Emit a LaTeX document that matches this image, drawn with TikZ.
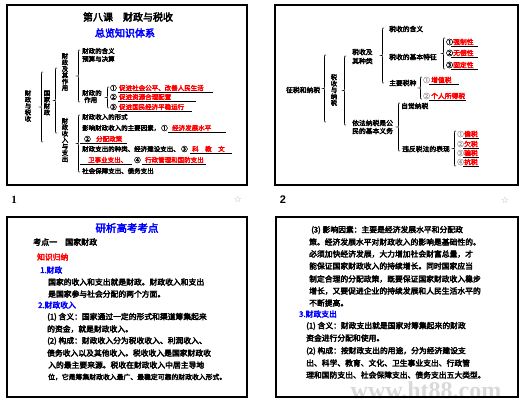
\documentclass[tikz,border=0pt]{standalone}
\usepackage{fontspec}
\setmainfont{Noto Sans CJK SC}[AutoFakeBold=3.5]
\newfontfamily\latser{Liberation Serif}
\newfontfamily\latsans{Liberation Sans}
\newfontfamily\djv{DejaVu Sans}
\newcommand\brc[3]{%
  \draw[brcline] ({#1+3},#2) .. controls ({#1+1.5},#2) .. ({#1+1.5},{#2+2})
    -- ({#1+1.5},{(#2+#3)/2-2}) .. controls ({#1+1.5},{(#2+#3)/2}) .. (#1,{(#2+#3)/2})
    .. controls ({#1+1.5},{(#2+#3)/2}) .. ({#1+1.5},{(#2+#3)/2+2})
    -- ({#1+1.5},{#3-2}) .. controls ({#1+1.5},#3) .. ({#1+3},#3);}
\begin{document}
\begin{tikzpicture}[x=1pt,y=-1pt,
  frame/.style={draw,line width=1.2pt},
  brcline/.style={line width=0.6pt},
  ul/.style={line width=0.6pt},
  t/.style={inner sep=0,anchor=west,font=\fontsize{6.5}{7}\selectfont\bfseries},
  rt/.style={t,text=red},
  t2/.style={inner sep=0,anchor=west,font=\fontsize{6.8}{7}\selectfont\bfseries},
  rt2/.style={t2,text=red},
  gt2/.style={t2,text=gray!70},
  vt/.style={inner sep=0,align=center,font=\fontsize{6.4}{6.4}\selectfont\bfseries},
  body/.style={inner sep=0,anchor=west,font=\fontsize{7.8}{8}\selectfont\bfseries},
  bbody/.style={body,text=blue},
  ttl/.style={inner sep=0,font=\fontsize{10}{11}\selectfont\bfseries},
  pnum/.style={inner sep=0,font=\fontsize{11}{12}\latser\bfseries},
  star/.style={inner sep=0,text=gray!60,font=\fontsize{9}{10}\djv}
]
\useasboundingbox (0,0) rectangle (522,405);
\fill[white] (0,0) rectangle (522,405);

% ---------- slide 1 ----------
\draw[frame] (7,5) rectangle (247,185);
\node[ttl] (s1t) at (128,17) {第八课　财政与税收};
\node[ttl,text=blue] (s1s) at (125,33) {总览知识体系};
\node[vt] (r1) at (28,106) {财\\政\\与\\税\\收};
\brc{40}{72}{142}
\node[vt] (g1) at (47,103) {国\\家\\财\\政};
\brc{54}{68}{133}
\node[vt] (v1) at (65,72) {财\\政\\及\\其\\作\\用};
\node[vt] (v2) at (65,140) {财\\政\\收\\入\\与\\支\\出};
\brc{77}{50}{102}
\node[t] (a1) at (82,51) {财政的含义};
\node[t] (a2) at (82,59) {预算与决算};
\node[t] (a3) at (82,93) {财政的};
\node[t] (a4) at (84,100) {作用};
\brc{106}{87}{108}
\node[t] (n1) at (110,88) {①};
\node[rt] (b1) at (119,88) {促进社会公平、改善人民生活};
\draw[ul] (118,92.5) -- (213,92.5);
\node[t] (n2) at (110,97) {②};
\node[rt] (b2) at (119,97) {促进资源合理配置};
\draw[ul] (118,101.5) -- (196,101.5);
\node[t] (n3) at (110,107) {③};
\node[rt] (b3) at (119,107) {促进国民经济平稳运行};
\draw[ul] (118,111) -- (192,111);
\brc{77}{115}{172}
\node[t] (c1) at (82,117) {财政收入的形式};
\node[t] (c2) at (82,128) {影响财政收入的主要因素，};
\node[t] (c2n) at (161,128) {①};
\node[rt] (c2r) at (172,128) {经济发展水平};
\draw[ul] (168,132) -- (226,132);
\node[t] (c3n) at (84,139) {②};
\node[rt] (c3r) at (96,139) {分配政策};
\draw[ul] (80,143) -- (127,143);
\node[t] (c4) at (82,149) {财政支出的种类、经济建设支出、};
\node[t] (c4n) at (181,149) {③};
\node[rt] (c4r) at (192,149) {科　教　文};
\draw[ul] (190,153) -- (232,153);
\node[rt] (c5r) at (88,160) {卫事业支出、};
\draw[ul] (80,164) -- (132,164);
\node[t] (c5n) at (134,160) {④};
\node[rt] (c5r2) at (145,160) {行政管理和国防支出};
\draw[ul] (142,164) -- (206,164);
\node[t] (c6) at (82,171) {社会保障支出、债务支出};
\node[pnum] (p1) at (14,200) {1};
\node[star] (st1) at (238,199) {☆};

% ---------- slide 2 ----------
\draw[frame] (275,5) rectangle (518,185);
\node[t2] (r2) at (286,90) {征税和纳税};
\brc{323}{55}{122}
\node[vt] (g2) at (334,90) {税\\收\\与\\纳\\税};
\brc{343}{56}{125}
\node[t2] (d1) at (352,52) {税收及};
\node[t2] (d1b) at (352,61) {其种类};
\node[t2] (d2) at (352,123) {依法纳税是公};
\node[t2] (d2b) at (352,131) {民的基本义务};
\brc{381}{28}{83}
\node[t2] (e1) at (389,29) {税收的含义};
\node[t2] (e2) at (389,57) {税收的基本特征};
\node[t2] (e3) at (389,83) {主要税种};
\brc{442}{38}{69}
\node[t2] (f1n) at (446,42) {①};
\node[rt2] (f1) at (453,42) {强制性};
\draw[ul] (451,46) -- (478,46);
\node[t2] (f2n) at (446,53) {②};
\node[rt2] (f2) at (453,53) {无偿性};
\draw[ul] (451,57) -- (478,57);
\node[t2] (f3n) at (446,65) {③};
\node[rt2] (f3) at (453,65) {固定性};
\draw[ul] (451,69) -- (478,69);
\brc{419}{77}{99}
\node[gt2] (h1n) at (423,80) {①};
\node[rt2] (h1) at (431,80) {增值税};
\draw[ul] (429,84) -- (459,84);
\node[gt2] (h2n) at (423,96) {②};
\node[rt2] (h2) at (431,96) {个人所得税};
\draw[ul] (429,100) -- (466,100);
\brc{397}{103}{151}
\node[t2] (i1) at (401,106) {自觉纳税};
\node[t2] (i2) at (402,149) {违反税法的表现};
\brc{453}{131}{166}
\node[gt2] (j1n) at (457,134) {①};
\node[rt2] (j1) at (464,134) {偷税};
\draw[ul] (463,138) -- (479,138);
\node[gt2] (j2n) at (457,144) {②};
\node[rt2] (j2) at (464,144) {欠税};
\draw[ul] (463,148) -- (479,148);
\node[gt2] (j3n) at (457,153) {③};
\node[rt2] (j3) at (464,153) {骗税};
\draw[ul] (463,157) -- (479,157);
\node[gt2] (j4n) at (457,162) {④};
\node[rt2] (j4) at (464,162) {抗税};
\draw[ul] (463,166) -- (479,166);
\node[pnum,font=\fontsize{11}{12}\latsans\bfseries] (p2) at (283,200) {2};
\node[star] (st2) at (505,200) {☆};

% ---------- slide 3 ----------
\draw[frame] (7,217) rectangle (247,397);
\node[ttl,text=blue,font=\fontsize{10.5}{11}\selectfont\bfseries] (s3t) at (127,228) {研析高考考点};
\node[body,font=\fontsize{8}{9}\selectfont\bfseries] (k1) at (33,242) {考点一　国家财政};
\node[body,text=red] (k2) at (37,257) {知识归纳};
\node[bbody] (k3) at (40,270) {1.财政};
\node[body] (k4) at (48,282) {国家的收入和支出就是财政。财政收入和支出};
\node[body] (k5) at (48,294) {是国家参与社会分配的两个方面。};
\node[bbody] (k6) at (38,305) {2.财政收入};
\node[body] (k7) at (47,317) {(1) 含义：国家通过一定的形式和渠道筹集起来};
\node[body] (k8) at (47,329) {的资金，就是财政收入。};
\node[body] (k9) at (47,341) {(2) 构成：财政收入分为税收收入、利润收入、};
\node[body] (k10) at (47,353) {债务收入以及其他收入。税收收入是国家财政收};
\node[body] (k11) at (48,365) {入的最主要来源。税收在财政收入中居主导地};
\node[body,font=\fontsize{6.85}{8}\selectfont\bfseries] (k12) at (48,377) {位，它是筹集财政收入最广、最稳定可靠的财政收入形式。};

% ---------- slide 4 ----------
\node[inner sep=0,text=gray!30,font=\fontsize{24}{24}\latser\bfseries] (wm) at (426,390) {www.ht88.com};
\draw[frame] (276,217) rectangle (518,397);
\node[body] (m1) at (311,230) {(3) 影响因素：主要是经济发展水平和分配政};
\node[body] (m2) at (309,242) {策。经济发展水平对财政收入的影响是基础性的。};
\node[body] (m3) at (309,254) {必须加快经济发展，大力增加社会财富总量，才};
\node[body] (m4) at (309,266) {能保证国家财政收入的持续增长。同时国家应当};
\node[body] (m5) at (309,279) {制定合理的分配政策，既要保证国家财政收入稳步};
\node[body] (m6) at (309,291) {增长，又要促进企业的持续发展和人民生活水平的};
\node[body] (m7) at (309,303) {不断提高。};
\node[bbody] (m8) at (299,314) {3.财政支出};
\node[body] (m9) at (306,326) {(1) 含义：财政支出就是国家对筹集起来的财政};
\node[body] (m10) at (306,338) {资金进行分配和使用。};
\node[body] (m11) at (306,351) {(2) 构成：按财政支出的用途，分为经济建设支};
\node[body] (m12) at (306,363) {出、科学、教育、文化、卫生事业支出、行政管};
\node[body] (m13) at (306,375) {理和国防支出、社会保障支出、债务支出五大类型。};
\end{tikzpicture}
\end{document}
